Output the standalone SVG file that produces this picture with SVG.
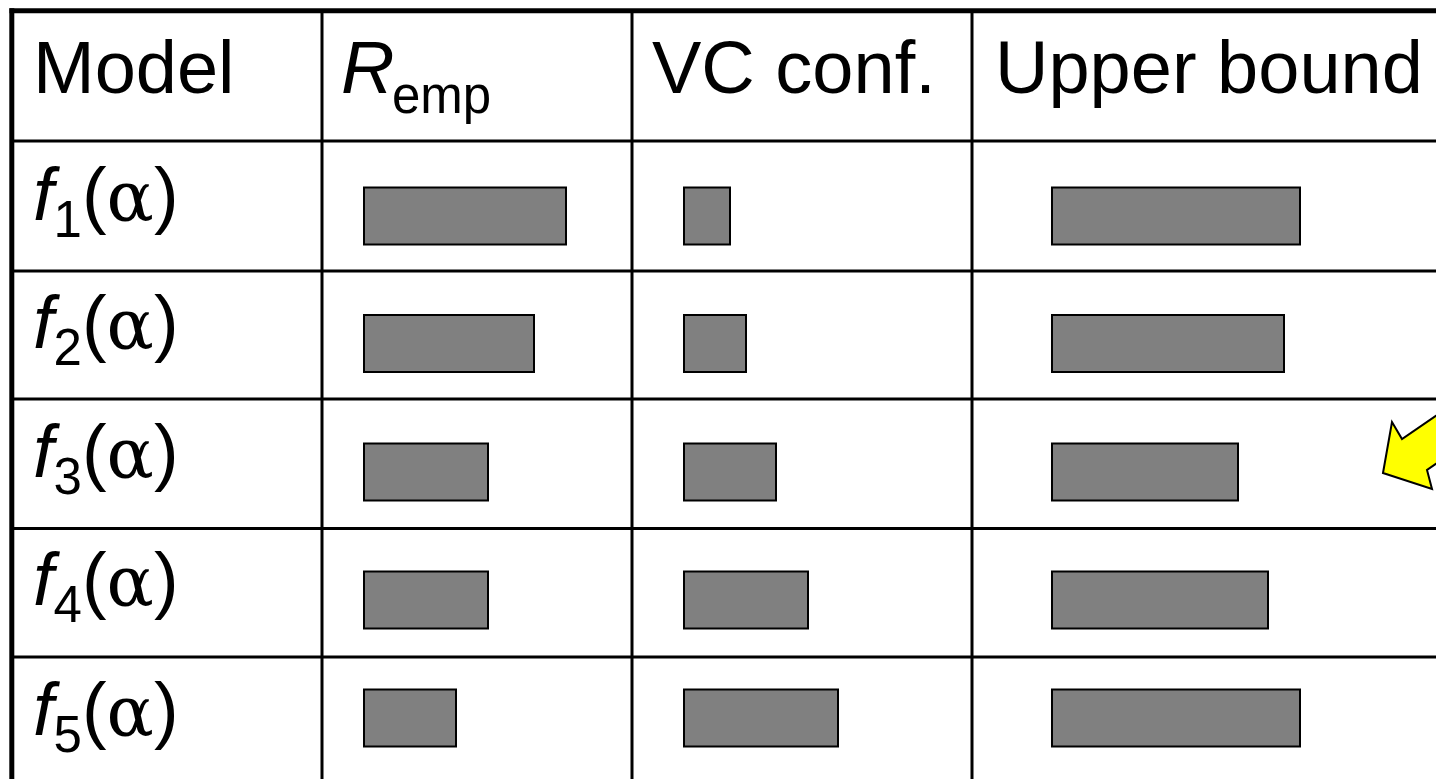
<svg xmlns="http://www.w3.org/2000/svg" width="1436" height="779" viewBox="0 0 1436 779">
<style>
  .t { font-family: "Liberation Sans", Arial, sans-serif; font-size: 74px; fill: #000; }
  .sub { font-size: 51px; }
  .it { font-style: italic; }
  .gr { font-family: "DejaVu Serif", "Liberation Serif", serif; font-size: 70px; }
  .bar { fill: #808080; stroke: #000; stroke-width: 2; }
  .thin { stroke: #000; stroke-width: 3; fill: none; }
  .thick { stroke: #000; stroke-width: 5; fill: none; }
</style>
<rect x="0" y="0" width="1436" height="779" fill="#fff"/>
<g id="grid">
  <line class="thin" x1="12" y1="141" x2="1436" y2="141"/>
  <line class="thin" x1="12" y1="271" x2="1436" y2="271"/>
  <line class="thin" x1="12" y1="399" x2="1436" y2="399"/>
  <line class="thin" x1="12" y1="528.5" x2="1436" y2="528.5"/>
  <line class="thin" x1="12" y1="657" x2="1436" y2="657"/>
  <line class="thin" x1="322" y1="11" x2="322" y2="779"/>
  <line class="thin" x1="632" y1="11" x2="632" y2="779"/>
  <line class="thin" x1="972" y1="11" x2="972" y2="779"/>
  <line class="thick" x1="9.5" y1="10.8" x2="1436" y2="10.8"/>
  <line class="thick" x1="11.8" y1="8.3" x2="11.8" y2="779"/>
</g>
<g id="header">
  <text class="t" x="33" y="93">Model</text>
  <text class="t" x="341" y="93"><tspan class="it">R</tspan><tspan class="sub" x="392" y="113">emp</tspan></text>
  <text class="t" x="652" y="93">VC conf.</text>
  <text class="t" x="995" y="93">Upper bound</text>
</g>
<g id="row1">
  <text class="t" x="33" y="220"><tspan class="it">f</tspan><tspan class="sub" dy="17">1</tspan><tspan dy="-17">(</tspan><tspan class="gr">α</tspan>)</text>
  <rect class="bar" x="364" y="187.5" width="202" height="57"/>
  <rect class="bar" x="684" y="187.5" width="46" height="57"/>
  <rect class="bar" x="1052" y="187.5" width="248" height="57"/>
</g>
<g id="row2">
  <text class="t" x="33" y="348"><tspan class="it">f</tspan><tspan class="sub" dy="17">2</tspan><tspan dy="-17">(</tspan><tspan class="gr">α</tspan>)</text>
  <rect class="bar" x="364" y="315" width="170" height="57"/>
  <rect class="bar" x="684" y="315" width="62" height="57"/>
  <rect class="bar" x="1052" y="315" width="232" height="57"/>
</g>
<g id="row3">
  <text class="t" x="33" y="477"><tspan class="it">f</tspan><tspan class="sub" dy="17">3</tspan><tspan dy="-17">(</tspan><tspan class="gr">α</tspan>)</text>
  <rect class="bar" x="364" y="443.5" width="124" height="57"/>
  <rect class="bar" x="684" y="443.5" width="92" height="57"/>
  <rect class="bar" x="1052" y="443.5" width="186" height="57"/>
</g>
<g id="row4">
  <text class="t" x="33" y="605"><tspan class="it">f</tspan><tspan class="sub" dy="17">4</tspan><tspan dy="-17">(</tspan><tspan class="gr">α</tspan>)</text>
  <rect class="bar" x="364" y="571.5" width="124" height="57"/>
  <rect class="bar" x="684" y="571.5" width="124" height="57"/>
  <rect class="bar" x="1052" y="571.5" width="216" height="57"/>
</g>
<g id="row5">
  <text class="t" x="33" y="735"><tspan class="it">f</tspan><tspan class="sub" dy="17">5</tspan><tspan dy="-17">(</tspan><tspan class="gr">α</tspan>)</text>
  <rect class="bar" x="364" y="689.5" width="92" height="57"/>
  <rect class="bar" x="684" y="689.5" width="154" height="57"/>
  <rect class="bar" x="1052" y="689.5" width="248" height="57"/>
</g>
<g id="arrow">
  <polygon points="1383,473 1392,422 1402,439 1462,398 1484,430 1427,470 1432,489" fill="#ffff00" stroke="#000" stroke-width="2" stroke-linejoin="miter"/>
</g>
</svg>
